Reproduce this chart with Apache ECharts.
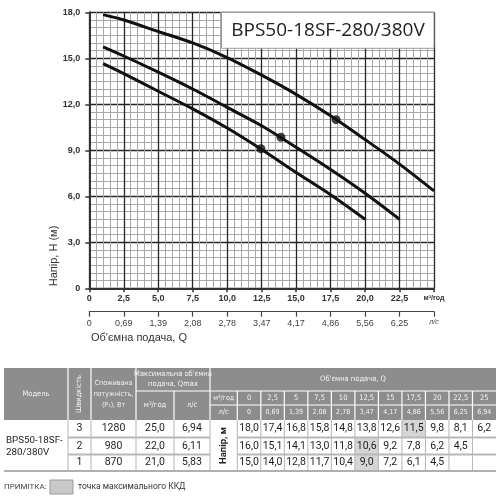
<!DOCTYPE html>
<html><head><meta charset="utf-8">
<script src="https://cdn.jsdelivr.net/npm/echarts@6/dist/echarts.min.js"></script>
<style>html,body{margin:0;padding:0;background:#fff}#c{width:500px;height:500px}</style>
</head><body><div id="c"></div>
<script>
// ---- chart data ----
const flowQ3 = [1, 2.5, 5, 7.5, 10, 12.5, 15, 17.5, 20, 22.5, 25];
const head3  = [17.85, 17.5, 16.75, 16.0, 15.05, 13.9, 12.65, 11.25, 9.7, 8.1, 6.35];
const flowQ2 = [1, 2.5, 5, 7.5, 10, 12.5, 15, 17.5, 20, 22.5];
const head2  = [15.75, 15.15, 14.1, 13.0, 11.8, 10.6, 9.2, 7.75, 6.2, 4.5];
const flowQ1 = [1, 2.5, 5, 7.5, 10, 12.5, 15, 17.5, 20];
const head1  = [14.65, 14.0, 12.85, 11.7, 10.45, 9.05, 7.55, 6.1, 4.5];
const bepQ = [17.9, 13.9, 12.45];
const bepH = [11.0, 9.85, 9.1];
const xTicksM3 = ['0','2,5','5,0','7,5','10,0','12,5','15,0','17,5','20,0','22,5','м³/год'];
const xTicksLs = ['0','0,69','1,39','2,08','2,78','3,47','4,17','4,86','5,56','6,25','л/с'];
const yTicks = ['0','3,0','6,0','9,0','12,0','15,0','18,0'];
const titleText = 'BPS50-18SF-280/380V';
// ---- table data ----
const tblQm3 = ['0','2,5','5','7,5','10','12,5','15','17,5','20','22,5','25'];
const tblQls = ['0','0,69','1,39','2,08','2,78','3,47','4,17','4,86','5,56','6,25','6,94'];
const speeds = ['3','2','1'];
const powers = ['1280','980','870'];
const qmaxM3 = ['25,0','22,0','21,0'];
const qmaxLs = ['6,94','6,11','5,83'];
const headRow3 = ['18,0','17,4','16,8','15,8','14,8','13,8','12,6','11,5','9,8','8,1','6,2'];
const headRow2 = ['16,0','15,1','14,1','13,0','11,8','10,6','9,2','7,8','6,2','4,5',''];
const headRow1 = ['15,0','14,0','12,8','11,7','10,4','9,0','7,2','6,1','4,5','',''];
const bepCol = [7, 5, 5];

const chart = echarts.init(document.getElementById('c'));
const pair = (xs, ys) => xs.map((x, i) => [x, ys[i]]);

// table layout
const G = [];
const cond = '"Liberation Sans Narrow","DejaVu Sans Condensed",sans-serif';
const numF = 'Roboto, "Noto Sans", sans-serif';
const qW = (496 - 237.3) / 11;
const qx = i => 237.3 + i * qW;
const Y0 = 368, Y1 = 391, Y2 = 405, Y3 = 420;
const RY = [420, 437.5, 454.5, 471];
function rect(x, y, w, h, fill, stroke, lw, z) {
  G.push({type:'rect', z: z||10, shape:{x, y, width:w, height:h}, style:{fill, stroke: stroke||null, lineWidth: lw||0}, silent:true});
}
function line(x1, y1, x2, y2, stroke, lw, z) {
  G.push({type:'line', z: z||12, shape:{x1, y1, x2, y2}, style:{stroke, lineWidth: lw}, silent:true});
}
function text(t, x, y, font, fill, align, rot, lh) {
  G.push({type:'text', z:20, x, y, rotation: rot||0, style:{text:t, font, fill, align: align||'center', textAlign: align||'center', verticalAlign:'middle', textVerticalAlign:'middle', lineHeight: lh}, silent:true});
}
// header
rect(4, Y0, 492, Y3 - Y0, '#8d8d8d');
[68, 91, 136, 210].forEach(x => line(x, Y0, x, Y3, '#fff', 1.2));
line(174, Y1, 174, Y3, '#fff', 1.2);
line(136, Y1, 496, Y1, '#fff', 1.2);
line(210, Y2, 496, Y2, '#fff', 1.2);
for (let i = 0; i < 11; i++) line(qx(i), Y1, qx(i), Y3, '#fff', 1.2);
const hw = '#f4f4f4';
const hF = '7.5px ' + cond;
text('Модель', 36, 394, hF, hw);
text('Швидкість', 79.5, 394, hF, hw, 'center', Math.PI/2);
text('Споживана\nпотужність,\n(P₁), Вт', 113.5, 394, '7px ' + cond, hw, 'center', 0, 11);
text('Максимальна об\'ємна\nподача, Qmax', 173, 379.5, hF, hw, 'center', 0, 10);
text('м³/год', 155, 405.5, hF, hw);
text('л/с', 192, 405.5, hF, hw);
text('Об\'ємна подача, Q', 353, 379.5, hF, hw);
text('м³/год', (210 + 237.3) / 2, 398, '7px ' + cond, hw);
text('л/с', (210 + 237.3) / 2, 412.5, hF, hw);
tblQm3.forEach((t, i) => text(t, qx(i) + qW / 2, 398, hF, hw));
tblQls.forEach((t, i) => text(t, qx(i) + qW / 2, 412.5, '7px ' + cond, hw));
// data body
const rows = [headRow3, headRow2, headRow1];
rows.forEach((r, k) => {
  rect(qx(bepCol[k]), RY[k], qW, RY[k + 1] - RY[k], '#d5d5d5', null, 0, 11);
});
[68, 91, 136, 174, 210, 237.3].forEach(x => line(x, RY[0], x, RY[3], '#b5b5b5', 1));
for (let i = 1; i < 11; i++) line(qx(i), RY[0], qx(i), RY[3], '#b5b5b5', 1);
[RY[1], RY[2]].forEach(y => { line(68, y, 210, y, '#b8b8b8', 1.8); line(237.3, y, 496, y, '#b8b8b8', 1.8); });
line(4, RY[3], 496, RY[3], '#b0b0b0', 2);
const dF = '10.5px ' + numF, dc = '#1e1e1e';
rows.forEach((r, k) => {
  const cy = (RY[k] + RY[k + 1]) / 2;
  text(speeds[k], 79.5, cy, dF, dc);
  text(powers[k], 113.5, cy, dF, dc);
  text(qmaxM3[k], 155, cy, dF, dc);
  text(qmaxLs[k], 192, cy, dF, dc);
  r.forEach((t, i) => { if (t) text(t, qx(i) + qW / 2, cy, dF, dc); });
});
text('BPS50-18SF-\n280/380V', 6, 447, '9.8px ' + numF, dc, 'left', 0, 12);
text('Напір, м', (210 + 237.3) / 2, 445.5, 'bold 9.5px ' + numF, '#222', 'center', Math.PI/2);
// note
text('ПРИМІТКА:', 4, 487, '8px ' + numF, '#444', 'left');
rect(50, 480, 23, 14, '#c9c9c9', '#9a9a9a', 1, 10);
text('точка максимального ККД', 78, 487, '8.5px ' + numF, '#333', 'left');
// chart extras
G.push({type:'rect', z:50, shape:{x:221.5, y:12.3, width:212.5, height:36}, style:{fill:'#fff', stroke:'#9a9a9a', lineWidth:1}, silent:true});
text(titleText, 328, 31, '19px "Open Sans", sans-serif', '#222');
G[G.length - 1].z = 51;
text('Напір, H (м)', 53.5, 256, '11px "Liberation Sans", Arial, sans-serif', '#333', 'center', Math.PI/2);
text('Об\'ємна подача, Q', 91, 338, '11px "Liberation Sans", Arial, sans-serif', '#333', 'left');

const axFont = '"Liberation Sans", Arial, sans-serif';
const curve = (xs, ys) => ({type: 'line', data: pair(xs, ys), smooth: 0.3, symbol: 'none', lineStyle: {color: '#111', width: 3}, z: 5});
chart.setOption({
  animation: false,
  grid: {left: 89.3, right: 66, top: 12.3, bottom: 211.7, containLabel: false},
  xAxis: [{
    type: 'value', min: 0, max: 25, interval: 2.5, position: 'bottom',
    axisLine: {show: true, onZero: false, lineStyle: {color: '#333', width: 2}},
    axisTick: {show: true, length: 4, lineStyle: {color: '#333', width: 1.5}},
    axisLabel: {margin: 6, fontFamily: axFont, fontSize: 9, fontWeight: 'bold', color: '#333',
      formatter: v => { const i = Math.round(v / 2.5); return i === 10 ? '{u|' + xTicksM3[i] + '}' : xTicksM3[i]; },
      rich: {u: {fontSize: 7, fontWeight: 'bold', fontFamily: axFont, color: '#333'}}},
    splitLine: {show: true, lineStyle: {color: '#262626', width: 1.3}},
    minorTick: {show: false, splitNumber: 5},
    minorSplitLine: {show: true, lineStyle: {color: '#a8a8a8', width: 1}}
  }, {
    type: 'value', min: 0, max: 25, interval: 2.5, position: 'bottom', offset: 23.4,
    axisLine: {show: true, onZero: false, lineStyle: {color: '#444', width: 1.2}},
    axisTick: {show: true, length: 5, lineStyle: {color: '#444', width: 1.2}},
    axisLabel: {margin: 7, fontFamily: axFont, fontSize: 9, color: '#444',
      formatter: v => { const i = Math.round(v / 2.5); return i === 10 ? '{u|' + xTicksLs[i] + '}' : xTicksLs[i]; },
      rich: {u: {fontSize: 7, fontStyle: 'italic', fontFamily: axFont, color: '#444'}}},
    splitLine: {show: false}
  }],
  yAxis: {
    type: 'value', min: 0, max: 18, interval: 3,
    axisLine: {show: true, lineStyle: {color: '#333', width: 2}},
    axisTick: {show: true, length: 4, lineStyle: {color: '#333', width: 1.5}},
    axisLabel: {margin: 9, fontFamily: axFont, fontSize: 9, fontWeight: 'bold', color: '#333',
      formatter: v => yTicks[Math.round(v / 3)]},
    splitLine: {show: true, lineStyle: {color: '#262626', width: 1.3}},
    minorTick: {show: false, splitNumber: 6},
    minorSplitLine: {show: true, lineStyle: {color: '#a8a8a8', width: 1}}
  },
  series: [
    curve(flowQ3, head3),
    curve(flowQ2, head2),
    curve(flowQ1, head1),
    {type: 'scatter', data: pair(bepQ, bepH), symbolSize: 9, itemStyle: {color: '#111'}, z: 6}
  ],
  graphic: {elements: G}
});
</script></body></html>
